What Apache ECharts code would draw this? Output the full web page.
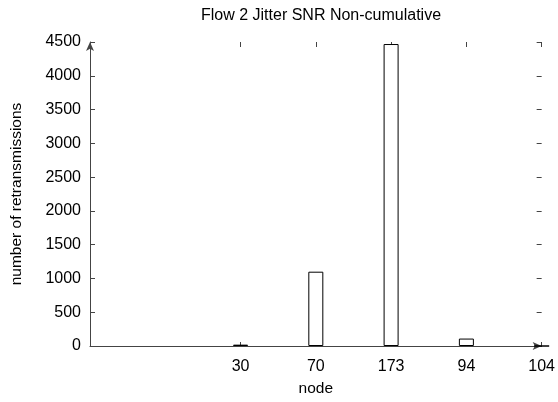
<!DOCTYPE html>
<html>
<head>
<meta charset="utf-8">
<script src="https://cdn.jsdelivr.net/npm/echarts@6/dist/echarts.min.js"></script>
<style>
  html, body { margin: 0; padding: 0; background: #fff; }
  #main { width: 558px; height: 402px; }
</style>
</head>
<body>
<div id="main"></div>
<script>
var nodes = ['30', '70', '173', '94', '104'];
var retransmissions = [20, 1100, 4470, 110, 0];
var yTicks = [0, 500, 1000, 1500, 2000, 2500, 3000, 3500, 4000, 4500];

var positions = nodes.map(function (n, i) { return i; });
var barData = retransmissions.map(function (v, i) { return [i, v]; });

var chartDom = document.getElementById('main');
var myChart = echarts.init(chartDom);
var option;

var font = 'Liberation Sans, Arial, sans-serif';

option = {
  animation: false,
  title: {
    text: 'Flow 2 Jitter SNR Non-cumulative',
    left: 316,
    top: 3,
    textAlign: 'center',
    textStyle: { fontFamily: font, fontSize: 16, fontWeight: 'normal', color: '#000' }
  },
  grid: { left: 90, right: 16, top: 42, bottom: 55 },
  xAxis: [
    {
      type: 'value',
      position: 'bottom',
      min: -2,
      max: 4,
      interval: 1,
      name: 'node',
      nameLocation: 'middle',
      nameGap: 35,
      nameTextStyle: { fontFamily: font, fontSize: 15.5, color: '#000' },
      splitLine: { show: false },
      axisLine: {
        show: true,
        onZero: false,
        lineStyle: { color: '#444', width: 1 },
        symbol: ['none', 'arrow'],
        symbolSize: [6, 9]
      },
      axisTick: { show: true, inside: true, length: 4, customValues: positions, lineStyle: { color: '#444' } },
      axisLabel: {
        customValues: positions,
        margin: 13,
        fontFamily: font,
        fontSize: 16,
        color: '#000',
        formatter: function (v) { return nodes[Math.round(v)]; }
      }
    },
    {
      type: 'value',
      position: 'top',
      min: -2,
      max: 4,
      interval: 1,
      splitLine: { show: false },
      axisLine: { show: false, onZero: false },
      axisTick: { show: true, inside: true, length: 5, customValues: positions, lineStyle: { color: '#444' } },
      axisLabel: { show: false }
    }
  ],
  yAxis: [
    {
      type: 'value',
      position: 'left',
      min: 0,
      max: 4500,
      interval: 500,
      name: 'number of retransmissions',
      nameLocation: 'middle',
      nameGap: 65,
      nameTextStyle: { fontFamily: font, fontSize: 15.5, color: '#000' },
      splitLine: { show: false },
      axisLine: {
        show: true,
        onZero: false,
        lineStyle: { color: '#444', width: 1 },
        symbol: ['none', 'arrow'],
        symbolSize: [6, 9]
      },
      axisTick: { show: true, inside: true, length: 5, lineStyle: { color: '#444' } },
      axisLabel: {
        customValues: yTicks,
        margin: 9,
        fontFamily: font,
        fontSize: 16,
        color: '#000',
        formatter: function (v) { return String(v); }
      }
    },
    {
      type: 'value',
      position: 'right',
      min: 0,
      max: 4500,
      interval: 500,
      splitLine: { show: false },
      axisLine: { show: false, onZero: false },
      axisTick: { show: true, inside: true, length: 5, lineStyle: { color: '#444' } },
      axisLabel: { show: false }
    }
  ],
  series: [
    {
      name: 'retransmissions',
      type: 'bar',
      xAxisIndex: 0,
      yAxisIndex: 0,
      barWidth: 15,
      data: barData,
      itemStyle: { color: '#fff', borderColor: '#000', borderWidth: 1 }
    }
  ]
};

option && myChart.setOption(option);
</script>
</body>
</html>
